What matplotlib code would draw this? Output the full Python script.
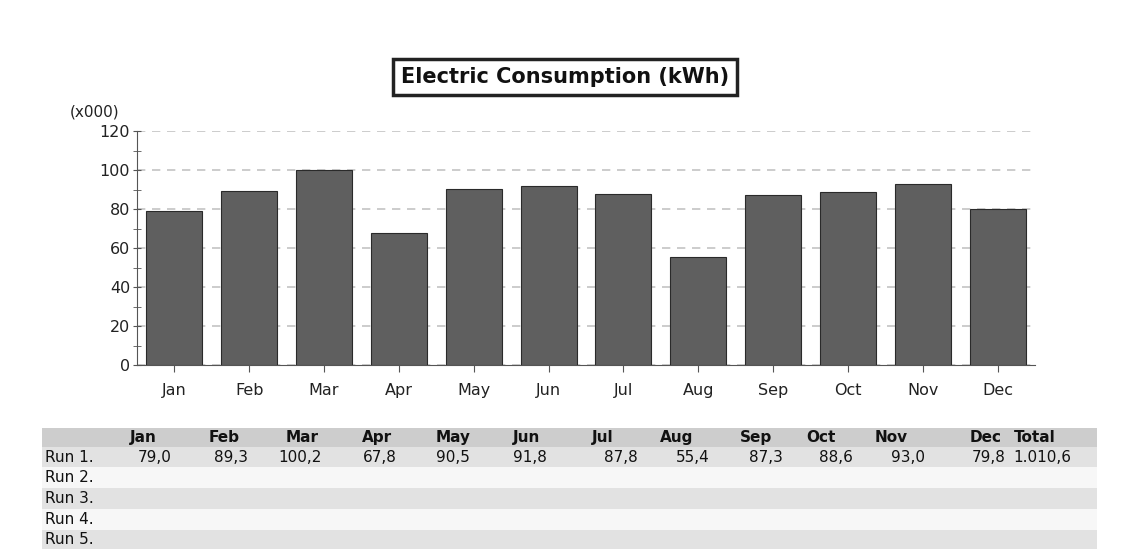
import numpy as np
import matplotlib
matplotlib.use("Agg")
import matplotlib.pyplot as plt
from matplotlib.patches import Rectangle

# Data (thousands of kWh)
months = ["Jan", "Feb", "Mar", "Apr", "May", "Jun",
          "Jul", "Aug", "Sep", "Oct", "Nov", "Dec"]
run1 = [79.0, 89.3, 100.2, 67.8, 90.5, 91.8, 87.8, 55.4, 87.3, 88.6, 93.0, 79.8]
run1_total = 1010.6  # as printed (unrounded monthly values)
runs = ["Run 1.", "Run 2.", "Run 3.", "Run 4.", "Run 5."]
y_ticks = [0, 20, 40, 60, 80, 100, 120]


def fmt(v):
    # european style: 1.010,6
    s = f"{v:,.1f}"
    return s.replace(",", "X").replace(".", ",").replace("X", ".")


plt.rcParams["font.family"] = ["DejaVu Sans"]

W, H = 1135, 549
fig = plt.figure(figsize=(W / 100, H / 100), dpi=100)

# background / table layer in pixel coords
bg = fig.add_axes([0, 0, 1, 1])
bg.set_xlim(0, W)
bg.set_ylim(H, 0)
bg.axis("off")

# bar chart
ax = fig.add_axes([137 / W, 1 - 365 / H, (1035 - 137) / W, (365 - 131) / H])
x = np.arange(len(months))
ax.bar(x, run1, width=0.75, color="#5f5f5f", edgecolor="#2a2a2a", linewidth=0.8, zorder=3)
ax.set_xlim(-0.5, len(months) - 0.5)
ax.set_ylim(0, 120)
ax.set_yticks(y_ticks)
ax.set_yticks(np.arange(10, 120, 20), minor=True)
ax.set_xticks(x)
ax.set_xticklabels(months)
ax.yaxis.grid(True, linestyle=(0, (5, 4)), color="#c4c4c4", linewidth=1.2, zorder=0)
for s in ["top", "right"]:
    ax.spines[s].set_visible(False)
ax.spines["left"].set_color("#555555")
ax.spines["bottom"].set_color("#555555")
ax.tick_params(axis="y", which="both", length=6, color="#555555", labelsize=11.5,
               labelcolor="#222222", direction="inout", pad=2)
ax.tick_params(axis="x", length=5, color="#555555", labelsize=11.5, labelcolor="#222222",
               direction="out", pad=8)
ax.set_facecolor("none")

fig.text(70 / W, 1 - 112 / H, "(x000)", fontsize=11, color="#222222", va="center")

# title box
fig.text(565 / W, 1 - 77 / H, "Electric Consumption (kWh)", fontsize=15, fontweight="bold",
         ha="center", va="center", color="#111111",
         bbox=dict(boxstyle="square,pad=0.4", facecolor="white", edgecolor="#222222",
                   linewidth=2.5))

# table
x0, x1 = 42, 1097
row_edges = [428, 447, 467, 488, 509, 530, 549]
row_colors = ["#cdcdcd", "#e2e2e2", "#f7f7f7", "#e2e2e2", "#f7f7f7", "#e2e2e2"]
for i, c in enumerate(row_colors):
    bg.add_patch(Rectangle((x0, row_edges[i]), x1 - x0, row_edges[i + 1] - row_edges[i],
                           facecolor=c, edgecolor="none"))

col_right = [172, 248, 322, 397, 470, 547, 638, 710, 783, 853, 925, 1006, 1071]
col_left = [130, 209, 286, 362, 436, 513, 592, 660, 740, 806, 875, 970, 1014]
headers = months + ["Total"]
for lx, h in zip(col_left, headers):
    bg.text(lx, (row_edges[0] + row_edges[1]) / 2, h, fontsize=11, fontweight="bold",
            ha="left", va="center", color="#111111")

values = run1 + [run1_total]
for rx, v in zip(col_right, values):
    bg.text(rx, (row_edges[1] + row_edges[2]) / 2, fmt(v), fontsize=11,
            ha="right", va="center", color="#111111")

for i, r in enumerate(runs):
    bg.text(45, (row_edges[i + 1] + row_edges[i + 2]) / 2, r, fontsize=11,
            ha="left", va="center", color="#111111")

fig.savefig("out.png", dpi=100, facecolor="white")
